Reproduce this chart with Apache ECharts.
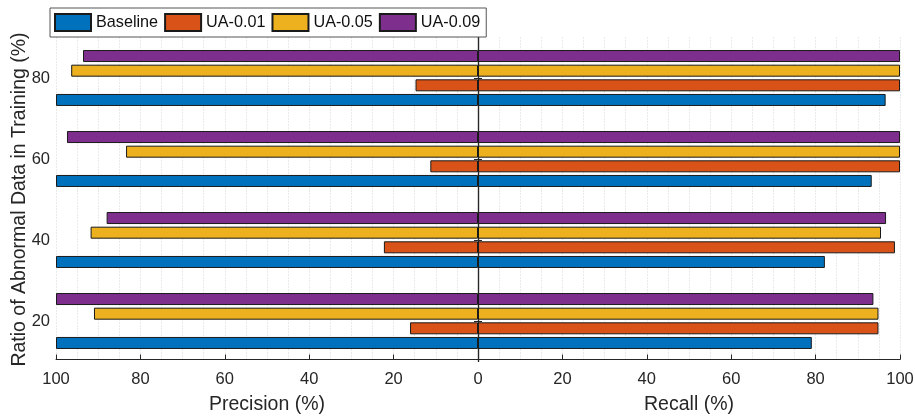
<!DOCTYPE html>
<html><head><meta charset="utf-8">
<script src="https://cdn.jsdelivr.net/npm/echarts@6/dist/echarts.min.js"></script>
<style>html,body{margin:0;padding:0;background:#fff}#c{width:915px;height:416px}</style>
</head><body><div id="c"></div>
<script>
// Data
const categories = ['20', '40', '60', '80'];
const methods = ['Baseline', 'UA-0.01', 'UA-0.05', 'UA-0.09'];
const precisionBaseline = [100, 100, 100, 100];
const precisionUA001 = [16.1, 22.3, 11.3, 14.8];
const precisionUA005 = [91.0, 91.8, 83.4, 96.4];
const precisionUA009 = [100, 88.0, 97.4, 93.6];
const recallBaseline = [79.1, 82.2, 93.3, 96.6];
const recallUA001 = [94.9, 98.8, 100, 100];
const recallUA005 = [94.9, 95.5, 100, 100];
const recallUA009 = [93.7, 96.7, 100, 100];
const colors = ['#0072BD', '#D95319', '#EDB120', '#7E2F8E'];

const precisions = [precisionBaseline, precisionUA001, precisionUA005, precisionUA009];
const recalls = [recallBaseline, recallUA001, recallUA005, recallUA009];

const FONT = '"Liberation Sans", Arial, sans-serif';
const TXT = '#262626';

// series added in reverse so that Baseline sits at the bottom of each group
const series = [];
for (let i = methods.length - 1; i >= 0; i--) {
  const m = methods[i];
  const style = { color: colors[i], borderColor: '#1a1a1a', borderWidth: 1 };
  series.push({
    name: m, type: 'bar', stack: m, barWidth: 12, barGap: '22%',
    itemStyle: style, data: precisions[i].map(v => -v)
  });
  series.push({
    name: m, type: 'bar', stack: m, barWidth: 12, barGap: '22%',
    itemStyle: style, data: recalls[i]
  });
}

const chart = echarts.init(document.getElementById('c'), null, { renderer: 'canvas' });
chart.setOption({
  animation: false,
  textStyle: { fontFamily: FONT },
  legend: {
    data: methods,
    left: 50, top: 8,
    orient: 'horizontal',
    itemWidth: 36, itemHeight: 17, itemGap: 6,
    padding: [5, 6, 5, 4],
    borderColor: '#555', borderWidth: 1, backgroundColor: '#fff',
    icon: 'rect',
    textStyle: { fontSize: 16.2, color: '#111', fontFamily: FONT },
    selectedMode: false
  },
  grid: { left: 56, right: 15, top: 37.5, bottom: 54.5, containLabel: false, outerBoundsMode: 'none' },
  xAxis: [{
    type: 'value', min: -100, max: 100, interval: 20, position: 'bottom', offset: -2,
    axisLine: { show: true, onZero: false, lineStyle: { color: TXT, width: 1 } },
    axisTick: { show: true, inside: true, length: 5, lineStyle: { color: TXT } },
    axisLabel: { formatter: v => Math.abs(v), fontSize: 16.5, color: TXT, margin: 11, fontFamily: FONT },
    splitLine: { show: true, lineStyle: { color: '#d4d4d4', type: [1, 2], width: 1 } },
    minorTick: { show: false, splitNumber: 4 },
    minorSplitLine: { show: true, lineStyle: { color: '#d4d4d4', type: [1, 2], width: 1 } },
    name: 'Precision (%)', nameLocation: 'middle', nameGap: 35, nameMoveOverlap: false,
    nameTextStyle: { fontSize: 19.5, color: TXT, fontFamily: FONT, padding: [0, 422, 0, 0] }
  }, {
    type: 'value', min: -100, max: 100, interval: 20, position: 'bottom', offset: -2,
    axisLine: { show: false }, axisTick: { show: false }, axisLabel: { show: false },
    splitLine: { show: false },
    name: 'Recall (%)', nameLocation: 'middle', nameGap: 35, nameMoveOverlap: false,
    nameTextStyle: { fontSize: 19.5, color: TXT, fontFamily: FONT, padding: [0, 0, 0, 422] }
  }],
  yAxis: [{
    type: 'category', data: categories, position: 'left',
    axisLine: { show: false, onZero: false }, axisTick: { show: false },
    axisLabel: { fontSize: 16.5, color: TXT, margin: 6, fontFamily: FONT },
    name: 'Ratio of Abnormal Data in Training (%)', nameLocation: 'middle', nameGap: 26,
    nameMoveOverlap: false,
    nameTextStyle: { fontSize: 19.5, color: TXT, fontFamily: FONT }
  }, {
    type: 'category', data: categories, position: 'left',
    axisLine: { show: true, onZero: true, lineStyle: { color: TXT, width: 1.2 } },
    axisTick: { show: true, alignWithLabel: true, length: 4, lineStyle: { color: TXT } },
    axisLabel: { show: false }, splitLine: { show: false }
  }, {
    type: 'category', data: categories, position: 'right',
    axisLine: { show: true, onZero: true, lineStyle: { color: TXT, width: 1.2 } },
    axisTick: { show: true, alignWithLabel: true, length: 4, lineStyle: { color: TXT } },
    axisLabel: { show: false }, splitLine: { show: false }
  }],
  series: series
});
</script></body></html>
